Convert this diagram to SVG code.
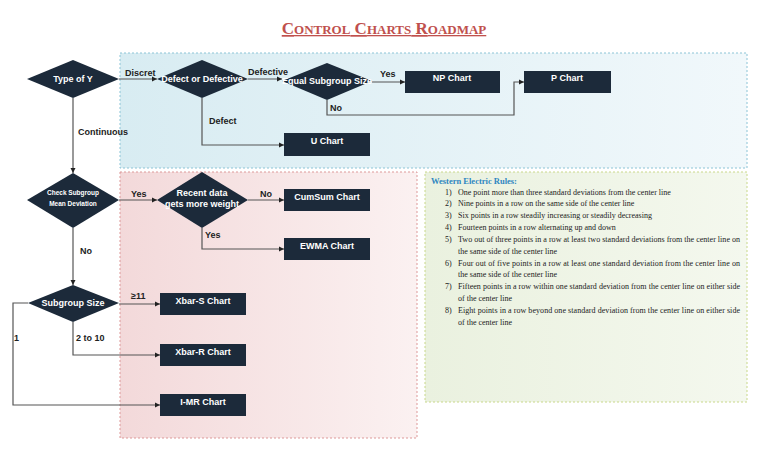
<svg xmlns="http://www.w3.org/2000/svg" width="768" height="466" viewBox="0 0 768 466">
<defs>
<linearGradient id="gb" x1="0" x2="1"><stop offset="0" stop-color="#d8ecf2"/><stop offset="1" stop-color="#f1f8fb"/></linearGradient>
<linearGradient id="gr" x1="0" x2="1"><stop offset="0" stop-color="#f3d9da"/><stop offset="1" stop-color="#fbf1f1"/></linearGradient>
<linearGradient id="gg" x1="0" x2="1"><stop offset="0" stop-color="#eaf1df"/><stop offset="1" stop-color="#f4f8ee"/></linearGradient>
<marker id="ar" markerWidth="6" markerHeight="6" refX="5" refY="3" orient="auto" markerUnits="userSpaceOnUse"><path d="M0,0.5 L5,3 L0,5.5 Z" fill="#222"/></marker>
<style>
.n{fill:#1c2a3a}
.t{fill:#fff;font-family:"Liberation Sans",Arial,sans-serif;font-weight:bold;font-size:9px;text-anchor:middle}
.s{font-size:6.5px}
.l{fill:#222;font-family:"Liberation Sans",Arial,sans-serif;font-weight:bold;font-size:9px}
.c{fill:none;stroke:#555;stroke-width:1.2;marker-end:url(#ar)}
.r{font-family:"Liberation Serif","Times New Roman",serif;font-size:8px;fill:#222}
</style>
</defs>
<rect width="768" height="466" fill="#fff"/>
<text x="384" y="34" text-anchor="middle" font-family="Liberation Serif,serif" font-weight="bold" font-size="17" fill="#c0504d" text-decoration="underline">C<tspan font-size="13">ONTROL</tspan> C<tspan font-size="13">HARTS</tspan> R<tspan font-size="13">OADMAP</tspan></text>
<rect x="120" y="53" width="627" height="115" fill="url(#gb)" stroke="#8cc4d6" stroke-dasharray="2,2"/>
<rect x="120" y="172" width="297" height="266" fill="url(#gr)" stroke="#d99" stroke-dasharray="2,2"/>
<rect x="425" y="172" width="322" height="230" fill="url(#gg)" stroke="#c9d88a" stroke-dasharray="2,2"/>
<g id="connectors">
<path class="c" d="M119,79 H157"/>
<path class="c" d="M248,79 H282"/>
<path class="c" d="M372,82 H405"/>
<path class="c" d="M327,100 V115 H514 V82 H524"/>
<path class="c" d="M202,98 V145 H284"/>
<path class="c" d="M73,98 V173"/>
<path class="c" d="M119,200 H157"/>
<path class="c" d="M248,200 H284"/>
<path class="c" d="M202,228 V249 H284"/>
<path class="c" d="M73,228 V285"/>
<path class="c" d="M119,304 H160"/>
<path class="c" d="M73,322 V355 H160"/>
<path class="c" d="M28,303 H13 V405 H160"/>
</g>
<g id="labels">
<text class="l" x="125" y="76">Discret</text>
<text class="l" x="248" y="75">Defective</text>
<text class="l" x="380" y="77">Yes</text>
<text class="l" x="330" y="111">No</text>
<text class="l" x="209" y="124">Defect</text>
<text class="l" x="78" y="135">Continuous</text>
<text class="l" x="131" y="197">Yes</text>
<text class="l" x="260" y="197">No</text>
<text class="l" x="205" y="238">Yes</text>
<text class="l" x="80" y="254">No</text>
<text class="l" x="131" y="299" font-size="8">≥11</text>
<text class="l" x="14" y="341">1</text>
<text class="l" x="76" y="341">2 to 10</text>
</g>
<g id="typeY"><polygon class="n" points="27,79 73,60 119,79 73,98"/><text class="t" x="73" y="82">Type of Y</text></g>
<g id="defect"><polygon class="n" points="157,79 202,60 248,79 202,98"/><text class="t" x="202" y="82">Defect or Defective</text></g>
<g id="equal"><polygon class="n" points="282,81 327,63 372,81 327,100"/><text class="t" x="327" y="84">Equal Subgroup Size</text></g>
<g id="np"><rect class="n" x="405" y="71" width="95" height="22"/><text class="t" x="452" y="81">NP Chart</text></g>
<g id="p"><rect class="n" x="524" y="71" width="87" height="22"/><text class="t" x="567" y="81">P Chart</text></g>
<g id="u"><rect class="n" x="284" y="133" width="86" height="23"/><text class="t" x="327" y="144">U Chart</text></g>
<g id="check"><polygon class="n" points="27,200 73,173 119,200 73,228"/><text class="t s" x="73" y="195">Check Subgroup</text><text class="t s" x="73" y="206">Mean Deviation</text></g>
<g id="recent"><polygon class="n" points="157,200 202,172 248,200 202,228"/><text class="t" x="202" y="196" font-size="8">Recent data</text><text class="t" x="202" y="207" font-size="8">gets more weight</text></g>
<g id="cusum"><rect class="n" x="284" y="189" width="86" height="22"/><text class="t" x="327" y="200">CumSum Chart</text></g>
<g id="ewma"><rect class="n" x="284" y="238" width="86" height="22"/><text class="t" x="327" y="249">EWMA Chart</text></g>
<g id="sub"><polygon class="n" points="28,303 73,285 119,303 73,322"/><text class="t" x="73" y="306">Subgroup Size</text></g>
<g id="xs"><rect class="n" x="160" y="293" width="86" height="22"/><text class="t" x="203" y="304">Xbar-S Chart</text></g>
<g id="xr"><rect class="n" x="160" y="344" width="86" height="22"/><text class="t" x="203" y="355">Xbar-R Chart</text></g>
<g id="imr"><rect class="n" x="160" y="394" width="86" height="22"/><text class="t" x="203" y="405">I-MR Chart</text></g>
<g id="rules">
<text x="431" y="184" font-family="Liberation Serif,serif" font-weight="bold" font-size="8.5" fill="#2e86c1">Western Electric Rules:</text>
<g class="r">
<text x="445" y="195">1)</text><text x="458" y="195">One point more than three standard deviations from the center line</text>
<text x="445" y="206">2)</text><text x="458" y="206">Nine points in a row on the same side of the center line</text>
<text x="445" y="218">3)</text><text x="458" y="218">Six points in a row steadily increasing or steadily decreasing</text>
<text x="445" y="230">4)</text><text x="458" y="230">Fourteen points in a row alternating up and down</text>
<text x="445" y="242">5)</text><text x="458" y="242" textLength="282">Two out of three points in a row at least two standard deviations from the center line on</text>
<text x="458" y="254">the same side of the center line</text>
<text x="445" y="266">6)</text><text x="458" y="266" textLength="282">Four out of five points in a row at least one standard deviation from the center line on</text>
<text x="458" y="277">the same side of the center line</text>
<text x="445" y="289">7)</text><text x="458" y="289" textLength="282">Fifteen points in a row within one standard deviation from the center line on either side</text>
<text x="458" y="301">of the center line</text>
<text x="445" y="313">8)</text><text x="458" y="313" textLength="282">Eight points in a row beyond one standard deviation from the center line on either side</text>
<text x="458" y="325">of the center line</text>
</g>
</g>
</svg>
